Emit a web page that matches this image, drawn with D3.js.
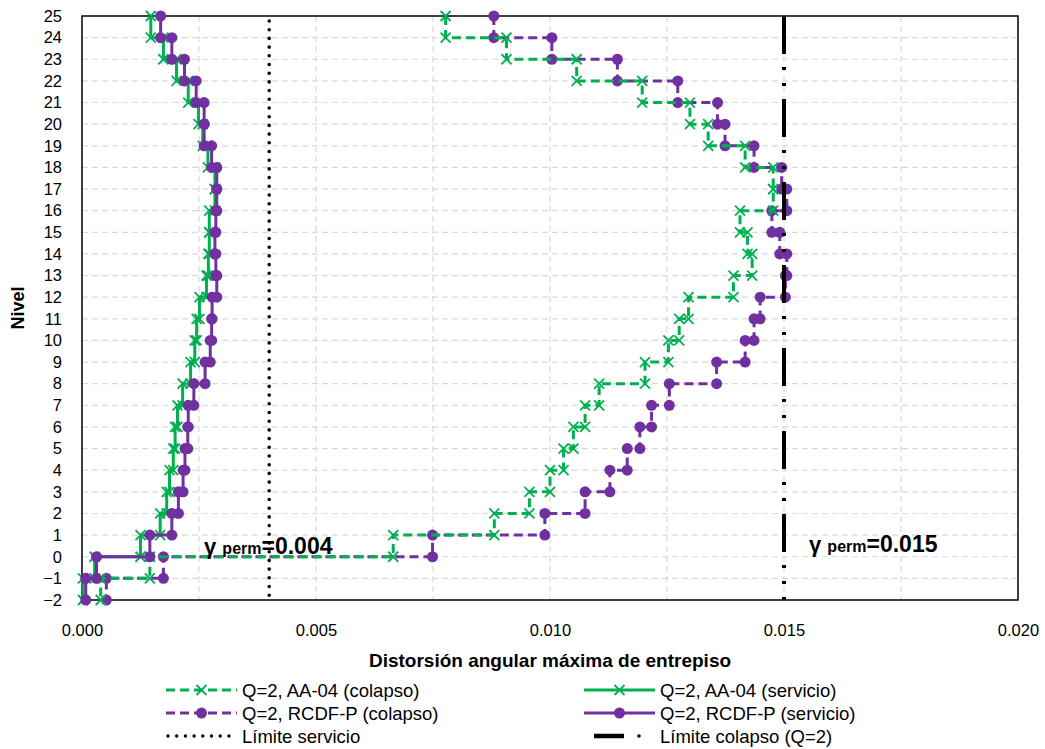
<!DOCTYPE html>
<html>
<head>
<meta charset="utf-8">
<script src="https://cdn.jsdelivr.net/npm/d3@7"></script>
<style>
  html, body { margin: 0; padding: 0; background: #ffffff; }
  svg { display: block; font-family: "Liberation Sans", Arial, sans-serif; }
</style>
</head>
<body>
<svg id="chart" width="1045" height="749"></svg>
<script>
// ---------------- DATA ----------------
// story index: story s spans from level s-1 to level s
const stories = [-1, 0, 1, 2, 3, 4, 5, 6, 7, 8, 9, 10, 11, 12, 13, 14, 15, 16, 17, 18, 19, 20, 21, 22, 23, 24, 25];

const aa04Colapso = [0.00040, 0.00145, 0.00665, 0.00881, 0.00956, 0.01000, 0.01029, 0.01050, 0.01075, 0.01105,
  0.01203, 0.01253, 0.01276, 0.01296, 0.01392, 0.01432, 0.01422, 0.01406, 0.01477, 0.01477,
  0.01417, 0.01338, 0.01299, 0.01197, 0.01057, 0.00907, 0.00777];

const rcdfColapso = [0.00052, 0.00174, 0.00749, 0.00989, 0.01075, 0.01128, 0.01165, 0.01192, 0.01217, 0.01255,
  0.01356, 0.01417, 0.01436, 0.01449, 0.01503, 0.01506, 0.01491, 0.01474, 0.01506, 0.01495,
  0.01436, 0.01374, 0.01358, 0.01273, 0.01144, 0.01004, 0.00880];

const aa04Servicio = [0.00002, 0.00027, 0.00125, 0.00167, 0.00181, 0.00187, 0.00195, 0.00199, 0.00204, 0.00215,
  0.00232, 0.00241, 0.00245, 0.00251, 0.00266, 0.00270, 0.00272, 0.00272, 0.00284, 0.00284,
  0.00269, 0.00258, 0.00249, 0.00227, 0.00202, 0.00174, 0.00147];

const rcdfServicio = [0.00008, 0.00031, 0.00145, 0.00192, 0.00206, 0.00216, 0.00220, 0.00226, 0.00227, 0.00239,
  0.00263, 0.00274, 0.00277, 0.00278, 0.00288, 0.00286, 0.00284, 0.00286, 0.00288, 0.00288,
  0.00277, 0.00261, 0.00261, 0.00244, 0.00219, 0.00192, 0.00168];

const limiteServicio = 0.004;
const limiteColapso = 0.015;

const levelTicks = [-2, -1, 0, 1, 2, 3, 4, 5, 6, 7, 8, 9, 10, 11, 12, 13, 14, 15, 16, 17, 18, 19, 20, 21, 22, 23, 24, 25];
const xTickValues = [0, 0.005, 0.010, 0.015, 0.020];
const xGridValues = [0.0025, 0.005, 0.0075, 0.010, 0.0125, 0.015, 0.0175];

const seriesNames = ["Q=2, AA-04 (colapso)", "Q=2, RCDF-P (colapso)", "Límite servicio",
                     "Q=2, AA-04 (servicio)", "Q=2, RCDF-P (servicio)", "Límite colapso (Q=2)"];

// ---------------- LAYOUT ----------------
const GREEN = "#00B050", PURPLE = "#7030A0";
const svg = d3.select("#chart");
svg.append("rect").attr("width", 1045).attr("height", 749).attr("fill", "#fff");

const x = d3.scaleLinear().domain([0, 0.02]).range([82, 1018]);
const y = d3.scaleLinear().domain([-2, 25]).range([600, 16]);

// gridlines
const grid = svg.append("g");
grid.selectAll("line.h").data(levelTicks.filter(v => v > -2 && v < 25)).join("line")
  .attr("x1", x(0)).attr("x2", x(0.02)).attr("y1", d => y(d)).attr("y2", d => y(d))
  .attr("stroke", "#d9d9d9").attr("stroke-width", 1.2).attr("stroke-dasharray", "6,4");
grid.selectAll("line.v").data(xGridValues).join("line")
  .attr("y1", y(25)).attr("y2", y(-2)).attr("x1", d => x(d)).attr("x2", d => x(d))
  .attr("stroke", "#d9d9d9").attr("stroke-width", 1.2).attr("stroke-dasharray", "6,4");

// frame
svg.append("rect").attr("x", x(0)).attr("y", y(25)).attr("width", x(0.02) - x(0)).attr("height", y(-2) - y(25))
  .attr("fill", "none").attr("stroke", "#000").attr("stroke-width", 1.5);

// axes (labels only)
const xAxis = d3.axisBottom(x).tickValues(xTickValues).tickFormat(d3.format(".3f")).tickSize(0).tickPadding(8);
const gx = svg.append("g").attr("transform", `translate(0,${y(-2) + 16})`).call(xAxis);
gx.select(".domain").remove();
gx.selectAll("text").attr("font-size", 16.5).attr("fill", "#000").attr("font-family", "Liberation Sans, Arial, sans-serif");

const yAxis = d3.axisLeft(y).tickValues(levelTicks).tickFormat(d3.format("d")).tickSize(0).tickPadding(0);
const gy = svg.append("g").attr("transform", `translate(${x(0) - 20},0)`).call(yAxis);
gy.select(".domain").remove();
gy.selectAll("text").attr("font-size", 16.5).attr("fill", "#000").attr("font-family", "Liberation Sans, Arial, sans-serif");

svg.append("text").attr("x", 550).attr("y", 667).attr("text-anchor", "middle")
  .attr("font-size", 19).attr("font-weight", "bold").text("Distorsión angular máxima de entrepiso");
svg.append("text").attr("transform", `translate(24,308) rotate(-90)`).attr("text-anchor", "middle")
  .attr("font-size", 18).attr("font-weight", "bold").text("Nivel");

// ---------------- SERIES ----------------
function stepPoints(values) {
  const pts = [];
  for (let i = values.length - 1; i >= 0; i--) {
    pts.push([values[i], stories[i]]);
    pts.push([values[i], stories[i] - 1]);
  }
  return pts;
}
const line = d3.line().x(d => x(d[0])).y(d => y(d[1]));
const xMark = "M-5,-5L5,5M-5,5L5,-5";

function drawSeries(values, color, dashed, marker) {
  const pts = stepPoints(values);
  const g = svg.append("g");
  g.append("path").attr("d", line(pts)).attr("fill", "none").attr("stroke", color)
    .attr("stroke-width", 3).attr("stroke-dasharray", dashed ? "9,5" : null);
  if (marker === "circle") {
    g.selectAll("circle").data(pts).join("circle")
      .attr("cx", d => x(d[0])).attr("cy", d => y(d[1])).attr("r", 5.5).attr("fill", color);
  } else {
    g.selectAll("path.m").data(pts).join("path").attr("class", "m")
      .attr("transform", d => `translate(${x(d[0])},${y(d[1])})`).attr("d", xMark)
      .attr("stroke", color).attr("stroke-width", 1.8).attr("fill", "none");
  }
}

drawSeries(rcdfColapso, PURPLE, true, "circle");
drawSeries(aa04Colapso, GREEN, true, "x");
drawSeries(aa04Servicio, GREEN, false, "x");
drawSeries(rcdfServicio, PURPLE, false, "circle");

// limit lines
svg.append("line").attr("x1", x(limiteServicio)).attr("x2", x(limiteServicio)).attr("y1", y(25) + 5).attr("y2", y(-2))
  .attr("stroke", "#000").attr("stroke-width", 3.6).attr("stroke-linecap", "round").attr("stroke-dasharray", "0,8.7");
svg.append("line").attr("x1", x(limiteColapso)).attr("x2", x(limiteColapso)).attr("y1", y(25)).attr("y2", y(-2))
  .attr("stroke", "#000").attr("stroke-width", 4).attr("stroke-dasharray", "38,13,3,13,3,13");

// gamma labels
function gammaLabel(px, py, val) {
  const t = svg.append("text").attr("x", px).attr("y", py).attr("font-weight", "bold").attr("fill", "#000");
  t.append("tspan").attr("font-size", 22).text("γ ");
  t.append("tspan").attr("font-size", 16).text("perm");
  t.append("tspan").attr("font-size", 23).text("=" + val);
}
gammaLabel(204, 554, "0.004");
gammaLabel(809, 552, "0.015");

// ---------------- LEGEND ----------------
const legendRows = [690, 713, 736];
const legendItems = [
  { col: 0, row: 0, name: seriesNames[0], color: GREEN, dash: "9,5", marker: "x" },
  { col: 0, row: 1, name: seriesNames[1], color: PURPLE, dash: "9,5", marker: "circle" },
  { col: 0, row: 2, name: seriesNames[2], color: "#000", dash: "dots", marker: null },
  { col: 1, row: 0, name: seriesNames[3], color: GREEN, dash: null, marker: "x" },
  { col: 1, row: 1, name: seriesNames[4], color: PURPLE, dash: null, marker: "circle" },
  { col: 1, row: 2, name: seriesNames[5], color: "#000", dash: "limit", marker: null }
];
const colX = [[166, 237], [584, 655]];
legendItems.forEach(it => {
  const [x0, x1] = colX[it.col];
  const ly = legendRows[it.row];
  const g = svg.append("g");
  if (it.dash === "dots") {
    g.append("line").attr("x1", x0 + 2).attr("x2", x1).attr("y1", ly).attr("y2", ly)
      .attr("stroke", "#000").attr("stroke-width", 3.4).attr("stroke-linecap", "round").attr("stroke-dasharray", "0,8.7");
  } else if (it.dash === "limit") {
    g.append("line").attr("x1", x0 + 10).attr("x2", x0 + 40).attr("y1", ly).attr("y2", ly)
      .attr("stroke", "#000").attr("stroke-width", 4.5);
    g.append("circle").attr("cx", x0 + 55).attr("cy", ly).attr("r", 1.8).attr("fill", "#000");
  } else {
    g.append("line").attr("x1", x0).attr("x2", x1).attr("y1", ly).attr("y2", ly)
      .attr("stroke", it.color).attr("stroke-width", 3).attr("stroke-dasharray", it.dash);
    const cx = (x0 + x1) / 2;
    if (it.marker === "circle") {
      g.append("circle").attr("cx", cx).attr("cy", ly).attr("r", 5.5).attr("fill", it.color);
    } else {
      g.append("path").attr("transform", `translate(${cx},${ly})`).attr("d", xMark)
        .attr("stroke", it.color).attr("stroke-width", 1.8).attr("fill", "none");
    }
  }
  svg.append("text").attr("x", x1 + 5).attr("y", ly + 6.5).attr("font-size", 18.5).attr("fill", "#000").text(it.name);
});
</script>
</body>
</html>
